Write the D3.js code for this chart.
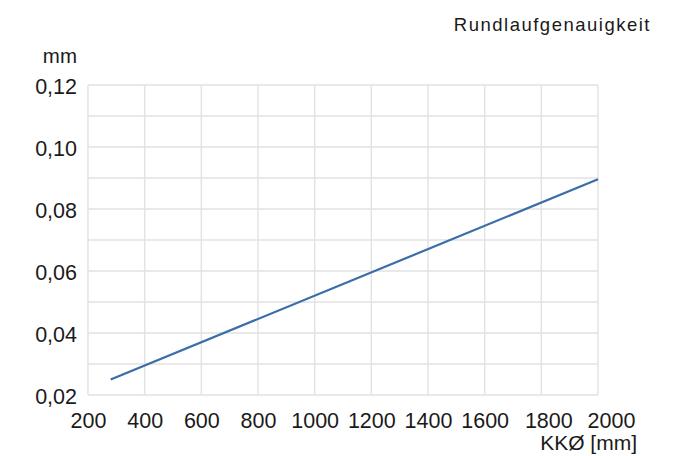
<!DOCTYPE html>
<html>
<head>
<meta charset="utf-8">
<script src="https://cdn.jsdelivr.net/npm/d3@7"></script>
<style>
  body { margin: 0; background: #fff; }
  text { font-family: "Liberation Sans", Arial, sans-serif; fill: #1a1a1a; }
</style>
</head>
<body>
<script>
// data
var diameters = [280, 2000];          // KKØ [mm]
var runout = [0.025, 0.0896];         // mm
var xTicks = [200, 400, 600, 800, 1000, 1200, 1400, 1600, 1800, 2000];
var yTicks = [0.02, 0.04, 0.06, 0.08, 0.10, 0.12];
var yGrid = [0.02, 0.03, 0.04, 0.05, 0.06, 0.07, 0.08, 0.09, 0.10, 0.11, 0.12];

var width = 686, height = 456;
var plot = {left: 88, right: 598, top: 85, bottom: 395};

var svg = d3.select("body").append("svg")
    .attr("width", width)
    .attr("height", height);

var x = d3.scaleLinear().domain([200, 2000]).range([plot.left, plot.right]);
var y = d3.scaleLinear().domain([0.02, 0.12]).range([plot.bottom, plot.top]);

var grid = svg.append("g")
    .attr("stroke", "#e2e2e2")
    .attr("stroke-width", 1.4);

grid.selectAll("line.v")
    .data(xTicks)
    .enter().append("line")
    .attr("x1", function(d) { return x(d); })
    .attr("x2", function(d) { return x(d); })
    .attr("y1", plot.top)
    .attr("y2", plot.bottom);

grid.selectAll("line.h")
    .data(yGrid)
    .enter().append("line")
    .attr("x1", plot.left)
    .attr("x2", plot.right)
    .attr("y1", function(d) { return y(d); })
    .attr("y2", function(d) { return y(d); });

// axes, only used for the labels
var fmt = function(d) { return d3.format(".2f")(d).replace(".", ","); };

var yAxis = svg.append("g")
    .attr("transform", "translate(" + (plot.left - 11) + ",2)")
    .call(d3.axisLeft(y).tickValues(yTicks).tickFormat(fmt).tickSize(0).tickPadding(0));

var xAxis = svg.append("g")
    .attr("transform", "translate(0," + (plot.bottom + 14) + ")")
    .call(d3.axisBottom(x).tickValues(xTicks).tickFormat(d3.format("d")).tickSize(0).tickPadding(0));

svg.selectAll(".domain").remove();
svg.selectAll(".tick text")
    .attr("font-size", 21.5)
    .attr("font-family", "Liberation Sans, Arial, sans-serif")
    .attr("fill", "#1a1a1a");

// the last two labels sit a little to the right in the original
var xLabelShift = {1800: 7, 2000: 13};
xAxis.selectAll(".tick text")
    .attr("dy", "0.9em")
    .attr("dx", function(d) { return xLabelShift[d] || 0; });

var line = d3.line()
    .x(function(d) { return x(d[0]); })
    .y(function(d) { return y(d[1]); });

svg.append("path")
    .datum(d3.zip(diameters, runout))
    .attr("d", line)
    .attr("fill", "none")
    .attr("stroke", "#3b6ea8")
    .attr("stroke-width", 2.2);

svg.append("text")
    .attr("x", 77)
    .attr("y", 63)
    .attr("text-anchor", "end")
    .attr("font-size", 20.5)
    .text("mm");

svg.append("text")
    .attr("x", 637)
    .attr("y", 450)
    .attr("text-anchor", "end")
    .attr("font-size", 21)
    .text("KKØ [mm]");

svg.append("text")
    .attr("x", 651)
    .attr("y", 31)
    .attr("text-anchor", "end")
    .attr("font-size", 18.5)
    .attr("letter-spacing", 1.5)
    .attr("fill", "#111")
    .text("Rundlaufgenauigkeit");
</script>
</body>
</html>
